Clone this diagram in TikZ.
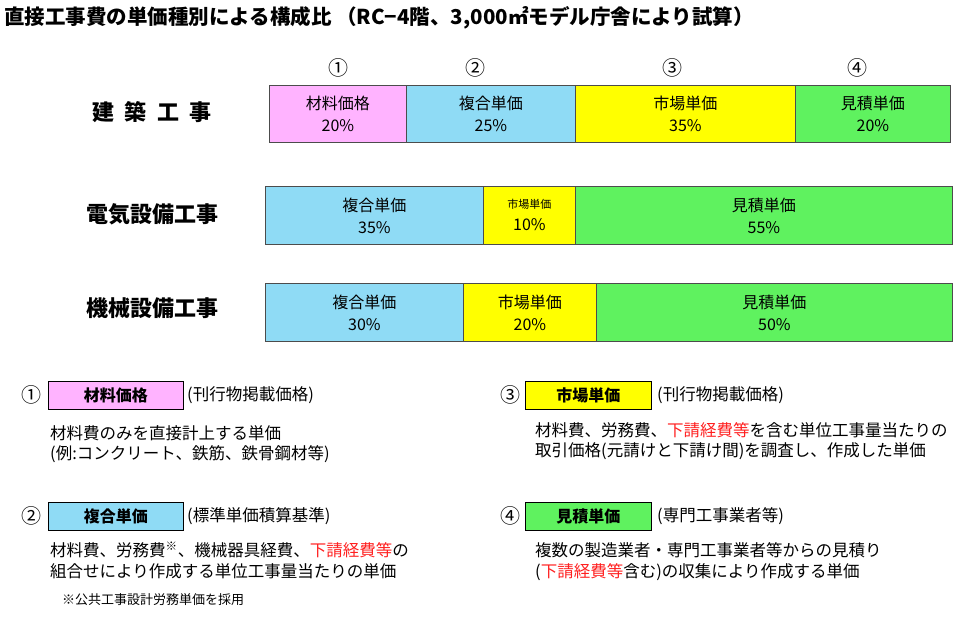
\documentclass[tikz,border=0pt]{standalone}
\usepackage{fontspec}
\setmainfont{Noto Sans CJK JP}
\definecolor{cpink}{HTML}{FFB3FF}
\definecolor{cblue}{HTML}{8FDBF5}
\definecolor{cyel}{HTML}{FFFF00}
\definecolor{cgrn}{HTML}{5FF25F}
\definecolor{cred}{HTML}{FF2020}
\tikzset{
    seg/.style={draw=black!70, line width=0.8pt, anchor=north west, inner sep=0pt},
    segtxt/.style={inner sep=0pt, align=center, font=\fontsize{16}{22}\selectfont},
    rowlbl/.style={font=\fontsize{22}{24}\selectfont\bfseries},
    tag/.style={draw=black, line width=0.8pt, minimum width=135pt, minimum height=28pt, inner sep=0pt, anchor=west, font=\fontsize{16}{18}\selectfont\bfseries},
    txt/.style={anchor=west, inner sep=0pt, font=\fontsize{16.5}{18}\selectfont},
    num/.style={inner sep=0pt, font=\fontsize{20}{22}\selectfont}
}
\newcommand{\bseg}[6]{% name, x1, x2, ytop, h, fill
  \node[seg, fill=#6, minimum width={#3pt-#2pt}, minimum height=#5pt] (#1) at (#2,#4) {};}
\begin{document}
\begin{tikzpicture}[x=1pt,y=-1pt]
\useasboundingbox (0,0) rectangle (977,622);
\node[anchor=west, inner sep=0pt, font=\fontsize{20.5}{22}\selectfont\bfseries] (title) at (4,18)
  {直接工事費の単価種別による構成比\ （RC−4階、3,000㎡モデル庁舎により試算）};

% 建築工事
\node[rowlbl] (r1) at (152,112) {建\ \ 築\ \ 工\ \ 事};
\bseg{a1}{269}{406}{85}{57}{cpink}
\bseg{a2}{406}{575}{85}{57}{cblue}
\bseg{a3}{575}{795}{85}{57}{cyel}
\bseg{a4}{795}{950}{85}{57}{cgrn}
\node[segtxt] at (a1.center) {材料価格\\20\%};
\node[segtxt] at (a2.center) {複合単価\\25\%};
\node[segtxt] at (a3.center) {市場単価\\35\%};
\node[segtxt] at (a4.center) {見積単価\\20\%};
\node[num] (n1) at (338,68) {①};
\node[num] (n2) at (475,68) {②};
\node[num] (n3) at (672,68) {③};
\node[num] (n4) at (857,68) {④};

% 電気設備工事
\node[rowlbl] (r2) at (152,214) {電気設備工事};
\bseg{b1}{265}{483}{186}{58}{cblue}
\bseg{b2}{483}{575}{186}{58}{cyel}
\bseg{b3}{575}{952}{186}{58}{cgrn}
\node[segtxt] at (b1.center) {複合単価\\35\%};
\node[segtxt] at (b2.center) {{\fontsize{11}{22}\selectfont 市場単価}\\10\%};
\node[segtxt] at (b3.center) {見積単価\\55\%};

% 機械設備工事
\node[rowlbl] (r3) at (152,308) {機械設備工事};
\bseg{c1}{265}{463}{283}{58}{cblue}
\bseg{c2}{463}{596}{283}{58}{cyel}
\bseg{c3}{596}{952}{283}{58}{cgrn}
\node[segtxt] at (c1.center) {複合単価\\30\%};
\node[segtxt] at (c2.center) {市場単価\\20\%};
\node[segtxt] at (c3.center) {見積単価\\50\%};

% 凡例
\node[num] (l1) at (31,395) {①};
\node[tag, fill=cpink] (t1) at (48,395) {材料価格};
\node[txt] at (187,395) {(刊行物掲載価格)};
\node[txt] at (50,433) {材料費のみを直接計上する単価};
\node[txt] at (50,454) {(例:コンクリート、鉄筋、鉄骨鋼材等)};

\node[num] (l2) at (31,516) {②};
\node[tag, fill=cblue] (t2) at (48,516) {複合単価};
\node[txt] at (187,516) {(標準単価積算基準)};
\node[txt] at (50,550) {材料費、労務費\textsuperscript{※}、機械器具経費、\textcolor{cred}{下請経費等}の};
\node[txt] at (50,571) {組合せにより作成する単位工事量当たりの単価};
\node[txt, font=\fontsize{13}{15}\selectfont] at (62,600) {※公共工事設計労務単価を採用};

\node[num] (l3) at (510,395) {③};
\node[tag, fill=cyel, minimum width=126pt] (t3) at (525,395) {市場単価};
\node[txt] at (657,395) {(刊行物掲載価格)};
\node[txt] at (535,430) {材料費、労務費、\textcolor{cred}{下請経費等}を含む単位工事量当たりの};
\node[txt] at (535,451) {取引価格(元請けと下請け間)を調査し、作成した単価};

\node[num] (l4) at (510,516) {④};
\node[tag, fill=cgrn, minimum width=126pt] (t4) at (525,516) {見積単価};
\node[txt] at (657,516) {(専門工事業者等)};
\node[txt] at (535,550) {複数の製造業者・専門工事業者等からの見積り};
\node[txt] at (535,572) {(\textcolor{cred}{下請経費等}含む)の収集により作成する単価};
\end{tikzpicture}
\end{document}
